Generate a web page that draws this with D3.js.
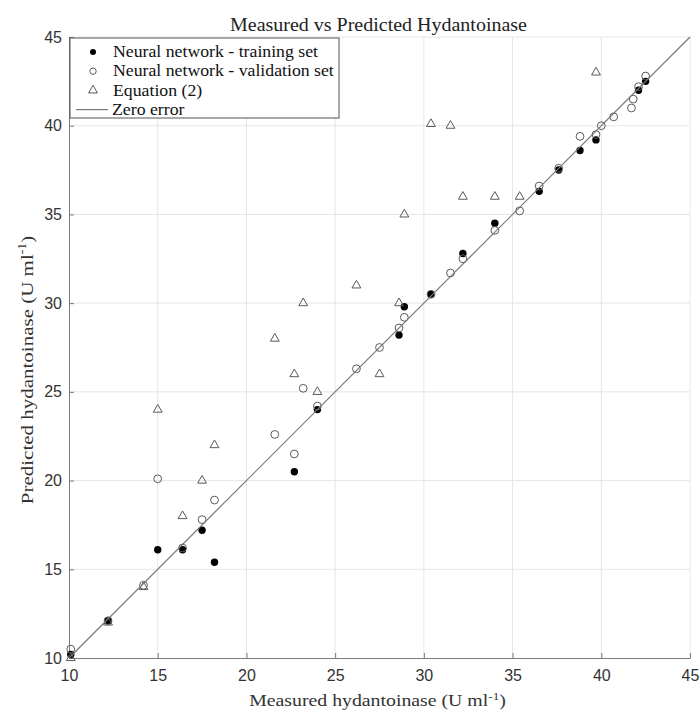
<!DOCTYPE html>
<html>
<head>
<meta charset="utf-8">
<script src="https://cdn.jsdelivr.net/npm/d3@7"></script>
<style>
  body { margin: 0; background: #fff; }
  svg { display: block; }
</style>
</head>
<body>
<div id="chart"></div>
<script>
// Data (measured, predicted)
const trainingSet = [
  [10.1, 10.2], [12.2, 12.1], [15.0, 16.1], [16.4, 16.1], [17.5, 17.2],
  [18.2, 15.4], [22.7, 20.5], [24.0, 24.0], [28.6, 28.2], [28.9, 29.8],
  [30.4, 30.5], [32.2, 32.8], [34.0, 34.5], [36.5, 36.3], [37.6, 37.5],
  [38.8, 38.6], [39.7, 39.2], [42.1, 42.0], [42.5, 42.5]
];
const validationSet = [
  [10.1, 10.5], [12.2, 12.1], [14.2, 14.1], [15.0, 20.1], [16.4, 16.2],
  [17.5, 17.8], [18.2, 18.9], [21.6, 22.6], [22.7, 21.5], [23.2, 25.2],
  [24.0, 24.2], [26.2, 26.3], [27.5, 27.5], [28.6, 28.6], [28.9, 29.2],
  [30.4, 30.5], [31.5, 31.7], [32.2, 32.5], [34.0, 34.1], [35.4, 35.2],
  [36.5, 36.6], [37.6, 37.6], [38.8, 39.4], [39.7, 39.5], [40.0, 40.0],
  [40.7, 40.5], [41.7, 41.0], [41.8, 41.5], [42.1, 42.2], [42.5, 42.8]
];
const equationSet = [
  [10.1, 10.0], [12.2, 12.0], [14.2, 14.0], [15.0, 24.0], [16.4, 18.0],
  [17.5, 20.0], [18.2, 22.0], [21.6, 28.0], [22.7, 26.0], [23.2, 30.0],
  [24.0, 25.0], [26.2, 31.0], [27.5, 26.0], [28.6, 30.0], [28.9, 35.0],
  [30.4, 40.1], [31.5, 40.0], [32.2, 36.0], [34.0, 36.0], [35.4, 36.0],
  [39.7, 43.0]
];
const zeroError = [[10, 10], [45, 45]];
const ticks = [10, 15, 20, 25, 30, 35, 40, 45];
const legendLabels = [
  "Neural network - training set",
  "Neural network - validation set",
  "Equation (2)",
  "Zero error"
];

const W = 700, H = 713;
const margin = { top: 37, right: 10, bottom: 55, left: 69 };
const width = W - margin.left - margin.right;
const height = H - margin.top - margin.bottom;
const serif = "'Liberation Serif', 'Times New Roman', serif";

const svg = d3.select("#chart").append("svg")
  .attr("width", W)
  .attr("height", H);

const g = svg.append("g")
  .attr("transform", `translate(${margin.left},${margin.top})`);

const x = d3.scaleLinear().domain([10, 45]).range([0, width]);
const y = d3.scaleLinear().domain([10, 45]).range([height, 0]);

// Grid
g.append("g")
  .selectAll("line")
  .data(ticks.slice(1))
  .enter().append("line")
  .attr("x1", d => x(d)).attr("x2", d => x(d))
  .attr("y1", 0).attr("y2", height)
  .attr("stroke", "#e6e6e6");
g.append("g")
  .selectAll("line")
  .data(ticks.slice(1))
  .enter().append("line")
  .attr("x1", 0).attr("x2", width)
  .attr("y1", d => y(d)).attr("y2", d => y(d))
  .attr("stroke", "#e6e6e6");

// Axes (ticks pointing inward)
const xAxis = g.append("g")
  .attr("transform", `translate(0,${height})`)
  .call(d3.axisBottom(x).tickValues(ticks).tickSizeInner(-5).tickSizeOuter(0).tickPadding(12));
const yAxis = g.append("g")
  .call(d3.axisLeft(y).tickValues(ticks).tickSizeInner(-5).tickSizeOuter(0).tickPadding(7));

[xAxis, yAxis].forEach(a => {
  a.select(".domain").attr("stroke", "#7a7a7a");
  a.selectAll(".tick line").attr("stroke", "#7a7a7a");
  a.selectAll(".tick text")
    .attr("fill", "#333")
    .style("font-family", "'Liberation Sans', Arial, sans-serif")
    .style("font-size", "16px");
});

// Markers
const tri = d3.symbol().type(d3.symbolTriangle).size(34);

g.append("g").selectAll("circle")
  .data(trainingSet)
  .enter().append("circle")
  .attr("cx", d => x(d[0]))
  .attr("cy", d => y(d[1]))
  .attr("r", 3.7)
  .attr("fill", "#000");

g.append("g").selectAll("circle")
  .data(validationSet)
  .enter().append("circle")
  .attr("cx", d => x(d[0]))
  .attr("cy", d => y(d[1]))
  .attr("r", 3.9)
  .attr("fill", "none")
  .attr("stroke", "#5a5a5a")
  .attr("stroke-width", 1);

g.append("g").selectAll("path")
  .data(equationSet)
  .enter().append("path")
  .attr("d", tri)
  .attr("transform", d => `translate(${x(d[0])},${y(d[1])})`)
  .attr("fill", "none")
  .attr("stroke", "#5a5a5a")
  .attr("stroke-width", 1);

// Zero error line
g.append("path")
  .datum(zeroError)
  .attr("d", d3.line().x(d => x(d[0])).y(d => y(d[1])))
  .attr("fill", "none")
  .attr("stroke", "#777")
  .attr("stroke-width", 1.2);

// Legend
const legend = g.append("g").attr("transform", "translate(1,1)");
legend.append("rect")
  .attr("width", 269).attr("height", 80)
  .attr("fill", "#fff")
  .attr("stroke", "#555");

legendLabels.forEach((label, i) => {
  const cy = 14 + i * 19.2;
  const row = legend.append("g").attr("transform", `translate(0,${cy})`);
  if (i === 0) {
    row.append("circle").attr("cx", 23).attr("r", 3).attr("fill", "#000");
  } else if (i === 1) {
    row.append("circle").attr("cx", 23).attr("r", 3.2)
      .attr("fill", "none").attr("stroke", "#5a5a5a");
  } else if (i === 2) {
    row.append("path").attr("d", tri).attr("transform", "translate(23,0)")
      .attr("fill", "none").attr("stroke", "#5a5a5a");
  } else {
    row.append("line").attr("x1", 6).attr("x2", 38)
      .attr("stroke", "#777").attr("stroke-width", 1.2);
  }
  // reference serif face is a bit wider than Liberation Serif
  row.append("text")
    .attr("transform", `translate(${i === 3 ? 42 : 43},0) scale(1.11,1)`)
    .attr("dy", "0.33em")
    .attr("fill", "#111")
    .style("font-family", serif)
    .style("font-size", "16px")
    .text(label);
});

// Title
svg.append("text")
  .attr("x", 378.5)
  .attr("y", 30.5)
  .attr("text-anchor", "middle")
  .attr("textLength", 297)
  .attr("lengthAdjust", "spacingAndGlyphs")
  .attr("fill", "#222")
  .style("font-family", serif)
  .style("font-size", "18px")
  .text("Measured vs Predicted Hydantoinase");

// Axis labels
const xLabel = svg.append("text")
  .attr("transform", "translate(377.5,706) scale(1.2,1)")
  .attr("text-anchor", "middle")
  .attr("fill", "#333")
  .style("font-family", serif)
  .style("font-size", "16.5px");
xLabel.append("tspan").text("Measured hydantoinase (U ml");
xLabel.append("tspan").attr("dy", -6).style("font-size", "11px").text("-1");
xLabel.append("tspan").attr("dy", 6).text(")");

const yLabel = svg.append("text")
  .attr("transform", "translate(33,370) rotate(-90) scale(1.2,1)")
  .attr("text-anchor", "middle")
  .attr("fill", "#333")
  .style("font-family", serif)
  .style("font-size", "17.5px");
yLabel.append("tspan").text("Predicted hydantoinase (U ml");
yLabel.append("tspan").attr("dy", -7).style("font-size", "11.5px").text("-1");
yLabel.append("tspan").attr("dy", 7).text(")");
</script>
</body>
</html>
